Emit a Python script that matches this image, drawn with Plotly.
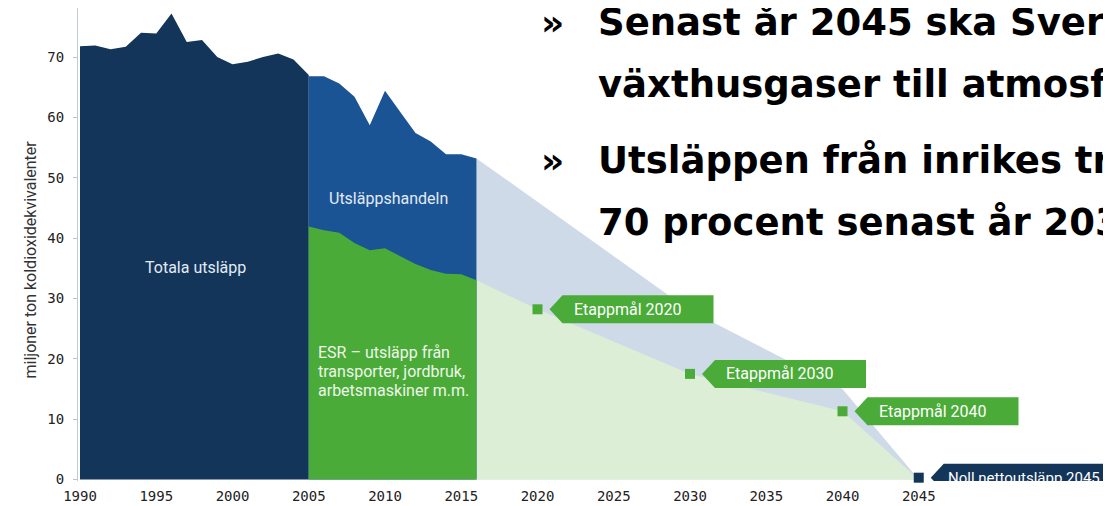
import plotly.graph_objects as go

# ---------------- data ----------------
hist_years = list(range(1990, 2006))
hist_total = [71.8, 71.9, 71.3, 71.7, 74.0, 73.9, 77.2, 72.5, 72.8, 70.0,
              68.8, 69.2, 70.0, 70.6, 69.6, 67.0]

recent_years = list(range(2005, 2017))
recent_total = [66.8, 66.8, 65.6, 63.4, 58.7, 64.4, 60.9, 57.4, 56.0, 53.9, 53.9, 53.2]
recent_esr = [41.9, 41.3, 40.9, 39.2, 38.0, 38.3, 37.0, 35.7, 34.7, 34.1, 34.0, 33.0]

path_years_total = [2016, 2030, 2040, 2045]
path_total = [53.2, 28.0, 15.0, 0.0]

goal_years = [2016, 2020, 2030, 2040, 2045]
goal_esr = [33.0, 28.2, 17.5, 11.3, 0.0]

milestone_years = [2020, 2030, 2040, 2045]
milestone_values = [28.2, 17.5, 11.3, 0.3]
milestone_labels = ["Etappmål 2020", "Etappmål 2030", "Etappmål 2040", "Noll nettoutsläpp 2045"]

x_ticks = list(range(1990, 2046, 5))
y_ticks = list(range(0, 71, 10))

esr_lines = ["ESR – utsläpp från", "transporter, jordbruk,", "arbetsmaskiner m.m."]

slide_lines = [
    ("»", "Senast år 2045 ska Sverige"),
    ("", "växthusgaser till atmosfären"),
    ("»", "Utsläppen från inrikes transporter"),
    ("", "70 procent senast år 2030"),
]

# ---------------- styles / layout helpers ----------------
NAVY = "#14355a"
BLUE = "#1a5494"
GREEN = "#4aab38"
LIGHT_BLUE = "#cfdae8"
LIGHT_GREEN = "#ddeed6"
LABEL_LIGHT = "#e2eaf4"
TICK_FONT = "DejaVu Sans Mono"
TEXT_FONT = "Roboto"
SLIDE_FONT = "DejaVu Sans"

# page has an 8px body margin; plot area spans page x 78..1111, page y 8..481
PX_L, PX_R, PY_T, PY_B = 78, 1111, 8, 481
def paper_x(px):
    return (px - PX_L) / (PX_R - PX_L)
def paper_y(py):
    return (PY_B - py) / (PY_B - PY_T)

fig = go.Figure()

def area(x, y, color):
    fig.add_trace(go.Scatter(x=x, y=y, mode="lines", line=dict(width=0, color=color),
                             fill="tozeroy", fillcolor=color, hoverinfo="skip",
                             showlegend=False))

area(path_years_total, path_total, LIGHT_BLUE)
area(goal_years, goal_esr, LIGHT_GREEN)
area(hist_years, hist_total, NAVY)
area(recent_years, recent_total, BLUE)
area(recent_years, recent_esr, GREEN)

# milestone markers
fig.add_trace(go.Scatter(
    x=milestone_years, y=milestone_values, mode="markers",
    marker=dict(symbol="square", size=10,
                color=[GREEN, GREEN, GREEN, NAVY], line=dict(width=0)),
    cliponaxis=False, hoverinfo="skip", showlegend=False))

# flag-shaped labels anchored at the milestone points
for i, (yr, val, lab) in enumerate(zip(milestone_years, milestone_values, milestone_labels)):
    last = i == len(milestone_years) - 1
    color = NAVY if last else GREEN
    right = 260 if last else 176
    fig.add_shape(type="path", xref="x", yref="y",
                  xsizemode="pixel", ysizemode="pixel",
                  xanchor=yr, yanchor=val,
                  path=f"M 12 0 L 25 14 L {right} 14 L {right} -14 L 25 -14 Z",
                  fillcolor=color, line=dict(width=0), layer="above")
    fig.add_annotation(x=yr, y=val, xref="x", yref="y", text=lab, showarrow=False,
                       xanchor="left", yanchor="middle", xshift=27 if last else 34,
                       font=dict(family=TEXT_FONT, size=15 if last else 16, color="white"))

# area labels
fig.add_annotation(x=1997.6, y=35.2, text="Totala utsläpp", showarrow=False,
                   font=dict(family=TEXT_FONT, size=16, color=LABEL_LIGHT))
fig.add_annotation(x=2010.2, y=46.5, text="Utsläppshandeln", showarrow=False,
                   font=dict(family=TEXT_FONT, size=16, color=LABEL_LIGHT))
for k, line in enumerate(esr_lines):
    fig.add_annotation(xref="x", yref="paper", x=2005.45, y=paper_y(352 + 19 * k),
                       xanchor="left", yanchor="middle", text=line, showarrow=False,
                       font=dict(family=TEXT_FONT, size=16, color="#eef6ea"))

# y-axis title
fig.add_annotation(xref="paper", yref="paper", x=paper_x(18), y=paper_y(260), textangle=-90,
                   text="miljoner ton koldioxidekvivalenter", showarrow=False,
                   font=dict(family=TEXT_FONT, size=16, color="#333333"))

# slide text at top right
for (bullet, line), ypx in zip(slide_lines, [22, 85, 160, 222]):
    if bullet:
        fig.add_annotation(xref="paper", yref="paper", x=paper_x(539), y=paper_y(ypx),
                           xanchor="left", yanchor="middle", text=bullet, showarrow=False,
                           font=dict(family=SLIDE_FONT, size=36, color="black", weight="bold"))
    fig.add_annotation(xref="paper", yref="paper", x=paper_x(596), y=paper_y(ypx),
                       xanchor="left", yanchor="middle", text=line, showarrow=False,
                       font=dict(family=SLIDE_FONT, size=37, color="black", weight="bold"))

# y range so that value 0 sits at page y 479.5 and 70 at page y 57
Y_PER_PX = 70 / (479.5 - 57)
y_lo = -(PY_B - 479.5) * Y_PER_PX
y_hi = (479.5 - PY_T) * Y_PER_PX
# x range so that 1990 sits at page x 80 and 2045 at page x 918.75
X_PER_PX = 55 / (918.75 - 80)
x_lo = 1990 - (80 - PX_L) * X_PER_PX
x_hi = 1990 + (PX_R - 80) * X_PER_PX

fig.update_layout(
    width=1103, height=498,
    margin=dict(l=PX_L - 8, r=0, t=PY_T - 8, b=498 - (PY_B - 8)),
    paper_bgcolor="white", plot_bgcolor="white",
    showlegend=False,
    xaxis=dict(range=[x_lo, x_hi], tickvals=x_ticks, ticks="", showgrid=False,
               zeroline=False, showline=False, ticklabelstandoff=5,
               tickfont=dict(family=TICK_FONT, size=14, color="#222222")),
    yaxis=dict(range=[y_lo, y_hi], tickvals=y_ticks, ticks="outside", ticklen=4,
               tickcolor="#b9c3cd", showgrid=False, zeroline=False,
               showline=True, linecolor="#c3ccd6", linewidth=1,
               ticklabelstandoff=6,
               tickfont=dict(family=TICK_FONT, size=14, color="#222222")),
)

fig.write_html("out.html")
